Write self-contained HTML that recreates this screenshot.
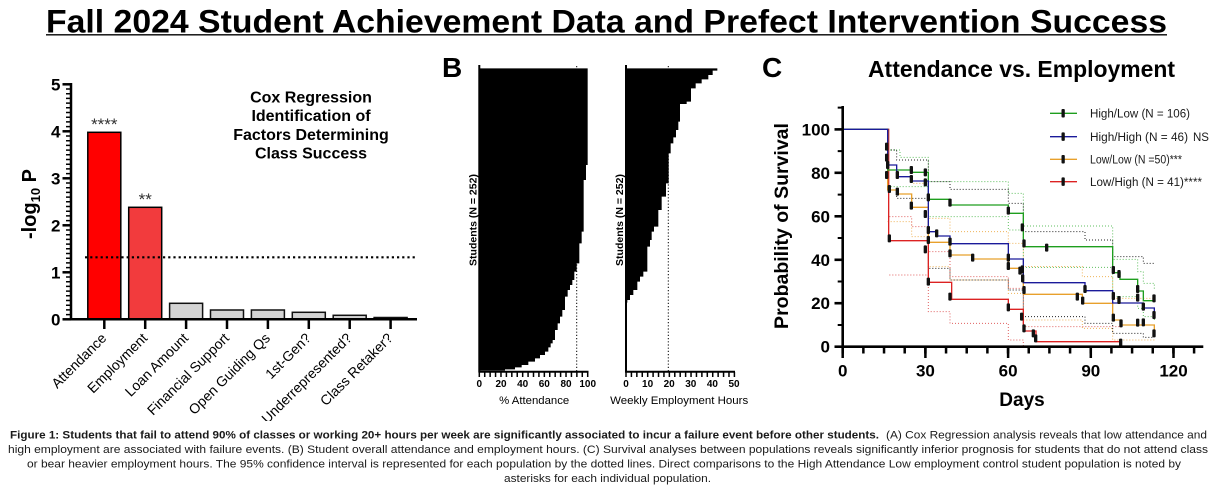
<!DOCTYPE html>
<html><head><meta charset="utf-8"><style>html,body{margin:0;padding:0;background:#fff;}svg{display:block;}</style></head>
<body>
<svg width="1217" height="493" viewBox="0 0 1217 493" xmlns="http://www.w3.org/2000/svg" font-family="'Liberation Sans', Arial, sans-serif">
<defs>
<clipPath id="clipA"><rect x="0" y="40" width="430" height="381"/></clipPath>
</defs>
<rect width="1217" height="493" fill="#fff"/>

<!-- Title -->
<text x="46" y="32.5" font-size="32" font-weight="bold" textLength="1121" lengthAdjust="spacingAndGlyphs" fill="#000">Fall 2024 Student Achievement Data and Prefect Intervention Success</text>
<line x1="46" y1="34.8" x2="1167" y2="34.8" stroke="#000" stroke-width="1.4"/>

<!-- ================= PANEL A ================= -->
<g clip-path="url(#clipA)">
<!-- bars -->
<rect x="87.8" y="132.3" width="33" height="187" fill="#ff0000" stroke="#000" stroke-width="1.5"/>
<rect x="128.7" y="207.3" width="33" height="112" fill="#f23b3d" stroke="#000" stroke-width="1.5"/>
<rect x="169.6" y="303.3" width="33" height="16" fill="#d4d4d4" stroke="#111" stroke-width="1.5"/>
<rect x="210.5" y="310" width="33" height="9.3" fill="#d4d4d4" stroke="#111" stroke-width="1.5"/>
<rect x="251.4" y="310" width="33" height="9.3" fill="#d4d4d4" stroke="#111" stroke-width="1.5"/>
<rect x="292.3" y="312.3" width="33" height="7" fill="#d4d4d4" stroke="#111" stroke-width="1.5"/>
<rect x="333.2" y="315.3" width="33" height="4" fill="#d4d4d4" stroke="#111" stroke-width="1.5"/>
<rect x="374.1" y="317.5" width="33" height="1.8" fill="#d4d4d4" stroke="#111" stroke-width="1.5"/>

<!-- dotted significance line -->
<line x1="85" y1="257.3" x2="417" y2="257.3" stroke="#000" stroke-width="2.2" stroke-dasharray="2.2 3"/>

<!-- axes -->
<line x1="68.5" y1="320.05" x2="68.5" y2="83" stroke="#000" stroke-width="5" stroke-dasharray="1.5 3.2"/>
<g stroke="#000" stroke-width="2.5">
<line x1="62.5" y1="319.3" x2="71" y2="319.3"/>
<line x1="62.5" y1="272.3" x2="71" y2="272.3"/>
<line x1="62.5" y1="225.3" x2="71" y2="225.3"/>
<line x1="62.5" y1="178.3" x2="71" y2="178.3"/>
<line x1="62.5" y1="131.3" x2="71" y2="131.3"/>
<line x1="62.5" y1="84.3" x2="71" y2="84.3"/>
<line x1="71" y1="83" x2="71" y2="320.5"/>
<line x1="70" y1="319.3" x2="417" y2="319.3"/>
<line x1="104.3" y1="319.3" x2="104.3" y2="329"/>
<line x1="145.2" y1="319.3" x2="145.2" y2="329"/>
<line x1="186.1" y1="319.3" x2="186.1" y2="329"/>
<line x1="227" y1="319.3" x2="227" y2="329"/>
<line x1="267.9" y1="319.3" x2="267.9" y2="329"/>
<line x1="308.8" y1="319.3" x2="308.8" y2="329"/>
<line x1="349.7" y1="319.3" x2="349.7" y2="329"/>
<line x1="390.6" y1="319.3" x2="390.6" y2="329"/>
</g>

<!-- y tick labels -->
<g font-size="17" font-weight="bold" text-anchor="end" fill="#000">
<text x="60.5" y="90.3">5</text>
<text x="60.5" y="137.3">4</text>
<text x="60.5" y="184.3">3</text>
<text x="60.5" y="231.3">2</text>
<text x="60.5" y="278.3">1</text>
<text x="60.5" y="325.3">0</text>
</g>

<!-- y axis label -->
<text transform="translate(36,204) rotate(-90)" text-anchor="middle" font-size="20" font-weight="bold" fill="#000">-log<tspan font-size="13" dy="4">10</tspan><tspan dy="-4"> P</tspan></text>

<!-- stars -->
<text x="104.3" y="130" text-anchor="middle" font-size="17" fill="#333">****</text>
<text x="145.2" y="205" text-anchor="middle" font-size="17" fill="#333">**</text>

<!-- inset title -->
<g font-size="16" font-weight="bold" text-anchor="middle" fill="#000">
<text x="311" y="102.3">Cox Regression</text>
<text x="311" y="121">Identification of</text>
<text x="311" y="140">Factors Determining</text>
<text x="311" y="158.5">Class Success</text>
</g>

<!-- x labels rotated -->
<g font-size="14" text-anchor="end" fill="#000">
<text transform="translate(107.3,339) rotate(-45)">Attendance</text>
<text transform="translate(148.2,339) rotate(-45)">Employment</text>
<text transform="translate(189.1,339) rotate(-45)">Loan Amount</text>
<text transform="translate(230,339) rotate(-45)">Financial Support</text>
<text transform="translate(270.9,339) rotate(-45)">Open Guiding Qs</text>
<text transform="translate(311.8,339) rotate(-45)">1st-Gen?</text>
<text transform="translate(352.7,339) rotate(-45)">Underrepresented?</text>
<text transform="translate(393.6,339) rotate(-45)">Class Retaker?</text>
</g>
</g>

<!-- ================= PANEL B ================= -->
<text x="442" y="77" font-size="28" font-weight="bold" fill="#000">B</text>
<g transform="translate(430,50) scale(0.333333)">
<polygon fill="#000" points="148,55 473,55 473,345 468,345 468,390 461,390 461,545 455,545 455,580 448,580 448,640 440,640 440,665 433,665 433,690 427,690 427,705 420,705 420,720 413,720 413,740 405,740 405,780 397,780 397,800 390,800 390,820 383,820 383,840 375,840 375,870 368,870 368,880 362,880 362,892 355,892 355,905 345,905 345,915 330,915 330,925 315,925 315,935 295,935 295,945 275,945 275,952 255,952 255,958 225,958 225,962 148,962"/>
<polygon fill="#000" points="588,55 862,55 862,62 848,62 848,75 835,75 835,88 815,88 815,100 797,100 797,115 783,115 783,155 770,155 770,162 750,162 750,215 745,215 745,240 738,240 738,262 730,262 730,280 722,280 722,310 716,310 716,400 708,400 708,440 695,440 695,480 685,480 685,530 672,530 672,545 665,545 665,570 660,570 660,590 652,590 652,665 640,665 640,680 630,680 630,695 622,695 622,720 610,720 610,735 600,735 600,750 592,750 592,758 588,758"/>
</g>
<line x1="576.7" y1="66" x2="576.7" y2="371" stroke="#000" stroke-width="1" stroke-dasharray="1.2 2"/>
<line x1="668.3" y1="66" x2="668.3" y2="371" stroke="#000" stroke-width="1" stroke-dasharray="1.2 2"/>
<g stroke="#000" stroke-width="2">
<line x1="479.3" y1="65" x2="479.3" y2="372.5"/>
<line x1="478.5" y1="371.7" x2="588.5" y2="371.7"/>
<line x1="626" y1="65" x2="626" y2="372.5"/>
<line x1="625.2" y1="371.7" x2="735" y2="371.7"/>
</g>
<line x1="478.55" y1="374.5" x2="589" y2="374.5" stroke="#000" stroke-width="5" stroke-dasharray="1.5 3.92"/>
<line x1="625.25" y1="374.5" x2="736" y2="374.5" stroke="#000" stroke-width="5" stroke-dasharray="1.5 3.92"/>
<g font-size="10" font-weight="bold" text-anchor="middle" fill="#000">
<text x="479.3" y="387">0</text>
<text x="501" y="387">20</text>
<text x="522.7" y="387">40</text>
<text x="544.3" y="387">60</text>
<text x="566" y="387">80</text>
<text x="587.7" y="387">100</text>
<text x="626" y="387">0</text>
<text x="647.6" y="387">10</text>
<text x="669.2" y="387">20</text>
<text x="690.8" y="387">30</text>
<text x="712.4" y="387">40</text>
<text x="734" y="387">50</text>
</g>
<g font-size="11" text-anchor="middle" fill="#000">
<text x="534.2" y="404" textLength="70" lengthAdjust="spacingAndGlyphs">% Attendance</text>
<text x="679.2" y="404" textLength="138" lengthAdjust="spacingAndGlyphs">Weekly Employment Hours</text>
</g>
<g font-size="10.5" font-weight="bold" text-anchor="middle" fill="#000">
<text transform="translate(476.5,220) rotate(-90)">Students (N = 252)</text>
<text transform="translate(622.8,220) rotate(-90)">Students (N = 252)</text>
</g>

<!-- ================= PANEL C ================= -->
<text x="762" y="77" font-size="28" font-weight="bold" fill="#000">C</text>
<text x="868" y="77" font-size="23" font-weight="bold" fill="#000" textLength="307" lengthAdjust="spacingAndGlyphs">Attendance vs. Employment</text>

<g transform="translate(760,50) scale(0.333333)" fill="none">
<!-- confidence intervals -->
<g stroke-width="3" stroke-dasharray="3 6">
<path stroke="#5fbf5f" d="M383,262 V300 H420 V322 H505 V395 H745 V430 H790 V528 H1058 V628 H1133 V665 H1150 V700 H1183 V720"/>
<path stroke="#5fbf5f" d="M383,410 H505 V500 H745 V540 H790 V652 H1058 V740 H1133 V775 H1150 V800 H1183 V810"/>
<path stroke="#222" d="M383,265 V300 H410 V330 H505 V395 H570 V418 H745 V460 H790 V545 H975 V570 H1058 V620 H1150 V640 H1183"/>
<path stroke="#222" d="M383,420 H410 V445 H505 V655 H570 V690 H745 V720 H790 V800 H975 V820 H1058 V850 H1150 V862 H1183"/>
<path stroke="#efb45a" d="M383,360 H455 V400 H505 V505 H570 V545 H745 V580 H790 V650 H967 V680 H1058 V745 H1183"/>
<path stroke="#efb45a" d="M383,515 H455 V560 H505 V650 H570 V690 H745 V730 H790 V810 H967 V835 H1058 V870 H1183"/>
<path stroke="#e06060" d="M388,500 H455 V530 H505 V605 H570 V680 H745 V715 H790 V830 H1085"/>
<path stroke="#e06060" d="M388,675 H505 V785 H570 V820 H745 V870 H790 V888 H1085"/>
</g>
<!-- survival curves -->
<g stroke-width="4">
<path stroke="#dc2222" d="M248,238 H386 V572 H505 V697 H575 V748 H745 V778 H790 V843 H828 V875 H1085"/>
<path stroke="#e8a02c" d="M248,238 H383 V420 H410 V432 H455 V472 H505 V577 H570 V615 H637 V627 H745 V655 H790 V733 H967 V760 H1058 V810 H1085 V825 H1183 V850"/>
<path stroke="#1e9e1e" d="M248,238 H383 V360 H455 V367 H505 V448 H570 V465 H745 V490 H790 V590 H1058 V668 H1080 V688 H1133 V723 H1150 V752 H1183"/>
<path stroke="#1a1a9a" d="M248,238 H383 V345 H410 V380 H455 V393 H505 V545 H528 V558 H570 V581 H745 V627 H790 V698 H975 V722 H1058 V759 H1150 V774 H1183 V795"/>
</g>
<!-- censor marks -->
<g fill="#111">
<rect x="375" y="278" width="10" height="24" rx="3"/>
<rect x="375" y="311" width="10" height="24" rx="3"/>
<rect x="378" y="333" width="10" height="24" rx="3"/>
<rect x="375" y="363" width="10" height="24" rx="3"/>
<rect x="383" y="405" width="10" height="24" rx="3"/>
<rect x="383" y="553" width="10" height="24" rx="3"/>
<rect x="407" y="363" width="10" height="24" rx="3"/>
<rect x="407" y="413" width="10" height="24" rx="3"/>
<rect x="449" y="348" width="10" height="24" rx="3"/>
<rect x="449" y="375" width="10" height="24" rx="3"/>
<rect x="449" y="455" width="10" height="24" rx="3"/>
<rect x="491" y="355" width="10" height="24" rx="3"/>
<rect x="491" y="385" width="10" height="24" rx="3"/>
<rect x="491" y="480" width="10" height="24" rx="3"/>
<rect x="491" y="586" width="10" height="24" rx="3"/>
<rect x="500" y="430" width="10" height="24" rx="3"/>
<rect x="500" y="528" width="10" height="24" rx="3"/>
<rect x="500" y="558" width="10" height="24" rx="3"/>
<rect x="500" y="683" width="10" height="24" rx="3"/>
<rect x="525" y="538" width="10" height="24" rx="3"/>
<rect x="565" y="446" width="10" height="24" rx="3"/>
<rect x="565" y="563" width="10" height="24" rx="3"/>
<rect x="565" y="598" width="10" height="24" rx="3"/>
<rect x="565" y="728" width="10" height="24" rx="3"/>
<rect x="633" y="611" width="10" height="24" rx="3"/>
<rect x="740" y="470" width="10" height="24" rx="3"/>
<rect x="740" y="611" width="10" height="24" rx="3"/>
<rect x="740" y="636" width="10" height="24" rx="3"/>
<rect x="740" y="760" width="10" height="24" rx="3"/>
<rect x="775" y="650" width="10" height="24" rx="3"/>
<rect x="782" y="520" width="10" height="24" rx="3"/>
<rect x="782" y="646" width="10" height="24" rx="3"/>
<rect x="783" y="673" width="10" height="24" rx="3"/>
<rect x="780" y="788" width="10" height="24" rx="3"/>
<rect x="787" y="568" width="10" height="24" rx="3"/>
<rect x="787" y="708" width="10" height="24" rx="3"/>
<rect x="787" y="823" width="10" height="24" rx="3"/>
<rect x="815" y="838" width="10" height="24" rx="3"/>
<rect x="822" y="853" width="10" height="24" rx="3"/>
<rect x="855" y="581" width="10" height="24" rx="3"/>
<rect x="947" y="728" width="10" height="24" rx="3"/>
<rect x="963" y="740" width="10" height="24" rx="3"/>
<rect x="970" y="705" width="10" height="24" rx="3"/>
<rect x="1055" y="648" width="10" height="24" rx="3"/>
<rect x="1055" y="726" width="10" height="24" rx="3"/>
<rect x="1055" y="791" width="10" height="24" rx="3"/>
<rect x="1072" y="660" width="10" height="24" rx="3"/>
<rect x="1072" y="738" width="10" height="24" rx="3"/>
<rect x="1078" y="808" width="10" height="24" rx="3"/>
<rect x="1077" y="866" width="10" height="24" rx="3"/>
<rect x="1128" y="705" width="10" height="24" rx="3"/>
<rect x="1128" y="731" width="10" height="24" rx="3"/>
<rect x="1128" y="806" width="10" height="24" rx="3"/>
<rect x="1145" y="758" width="10" height="24" rx="3"/>
<rect x="1145" y="805" width="10" height="24" rx="3"/>
<rect x="1177" y="733" width="10" height="24" rx="3"/>
<rect x="1177" y="783" width="10" height="24" rx="3"/>
<rect x="1177" y="838" width="10" height="24" rx="3"/>
</g>
</g>

<!-- C axes -->
<line x1="840.2" y1="347.7" x2="840.2" y2="106" stroke="#000" stroke-width="5" stroke-dasharray="2 19.73"/>
<g stroke="#000" stroke-width="2.6">
<line x1="834.5" y1="346.7" x2="842.7" y2="346.7"/>
<line x1="834.5" y1="303.2" x2="842.7" y2="303.2"/>
<line x1="834.5" y1="259.8" x2="842.7" y2="259.8"/>
<line x1="834.5" y1="216.3" x2="842.7" y2="216.3"/>
<line x1="834.5" y1="172.8" x2="842.7" y2="172.8"/>
<line x1="834.5" y1="129.4" x2="842.7" y2="129.4"/>
<line x1="842.7" y1="106" x2="842.7" y2="348"/>
<line x1="841.4" y1="346.7" x2="1203.3" y2="346.7"/>
</g>
<line x1="841.45" y1="350" x2="1200" y2="350" stroke="#000" stroke-width="7" stroke-dasharray="2.5 18.17"/>
<g stroke="#000" stroke-width="2.5">
<line x1="842.7" y1="346.7" x2="842.7" y2="358"/>
<line x1="925.4" y1="346.7" x2="925.4" y2="358"/>
<line x1="1008.1" y1="346.7" x2="1008.1" y2="358"/>
<line x1="1090.8" y1="346.7" x2="1090.8" y2="358"/>
<line x1="1173.5" y1="346.7" x2="1173.5" y2="358"/>
</g>
<g font-size="17" font-weight="bold" text-anchor="end" fill="#000">
<text x="830" y="135.4">100</text>
<text x="830" y="178.8">80</text>
<text x="830" y="222.3">60</text>
<text x="830" y="265.8">40</text>
<text x="830" y="309.2">20</text>
<text x="830" y="352.7">0</text>
</g>
<g font-size="17" font-weight="bold" text-anchor="middle" fill="#000">
<text x="842.7" y="376.7">0</text>
<text x="925.4" y="376.7">30</text>
<text x="1008.1" y="376.7">60</text>
<text x="1090.8" y="376.7">90</text>
<text x="1173.5" y="376.7">120</text>
</g>
<text x="1022" y="406" font-size="19" font-weight="bold" text-anchor="middle" fill="#000">Days</text>
<text transform="translate(788,226) rotate(-90)" font-size="19.5" font-weight="bold" text-anchor="middle" fill="#000">Probability of Survival</text>

<!-- legend -->
<g stroke-width="1.4">
<line x1="1050" y1="113.3" x2="1077" y2="113.3" stroke="#1e9e1e"/>
<line x1="1050" y1="136.7" x2="1077" y2="136.7" stroke="#1a1a9a"/>
<line x1="1050" y1="159.3" x2="1077" y2="159.3" stroke="#e8a02c"/>
<line x1="1050" y1="181.7" x2="1077" y2="181.7" stroke="#dc2222"/>
</g>
<g fill="#111">
<rect x="1061.5" y="109" width="3.3" height="8.5" rx="1"/>
<rect x="1061.5" y="132.4" width="3.3" height="8.5" rx="1"/>
<rect x="1061.5" y="155" width="3.3" height="8.5" rx="1"/>
<rect x="1061.5" y="177.4" width="3.3" height="8.5" rx="1"/>
</g>
<g font-size="11.5" fill="#1a1a1a">
<text x="1090" y="117.5" textLength="100" lengthAdjust="spacingAndGlyphs">High/Low (N = 106)</text>
<text x="1090" y="140.9" textLength="98" lengthAdjust="spacingAndGlyphs">High/High (N = 46)</text>
<text x="1193" y="140.9">NS</text>
<text x="1090" y="163.5" textLength="92" lengthAdjust="spacingAndGlyphs">Low/Low (N =50)***</text>
<text x="1090" y="185.9" textLength="112" lengthAdjust="spacingAndGlyphs">Low/High (N = 41)****</text>
</g>

<!-- ================= CAPTION ================= -->
<g font-size="11" fill="#1a1a1a">
<text x="10" y="438.5" font-weight="bold" textLength="869" lengthAdjust="spacingAndGlyphs">Figure 1: Students that fail to attend 90% of classes or working 20+ hours per week are significantly associated to incur a failure event before other students.</text>
<text x="886" y="438.5" textLength="321" lengthAdjust="spacingAndGlyphs">(A) Cox Regression analysis reveals that low attendance and</text>
<text x="8" y="453" textLength="1200" lengthAdjust="spacingAndGlyphs">high employment are associated with failure events. (B) Student overall attendance and employment hours. (C) Survival analyses between populations reveals significantly inferior prognosis for students that do not attend class</text>
<text x="27" y="467.5" textLength="1154" lengthAdjust="spacingAndGlyphs">or bear heavier employment hours. The 95% confidence interval is represented for each population by the dotted lines. Direct comparisons to the High Attendance Low employment control student population is noted by</text>
<text x="607.5" y="482" text-anchor="middle" textLength="207" lengthAdjust="spacingAndGlyphs">asterisks for each individual population.</text>
</g>
</svg>
</body></html>
